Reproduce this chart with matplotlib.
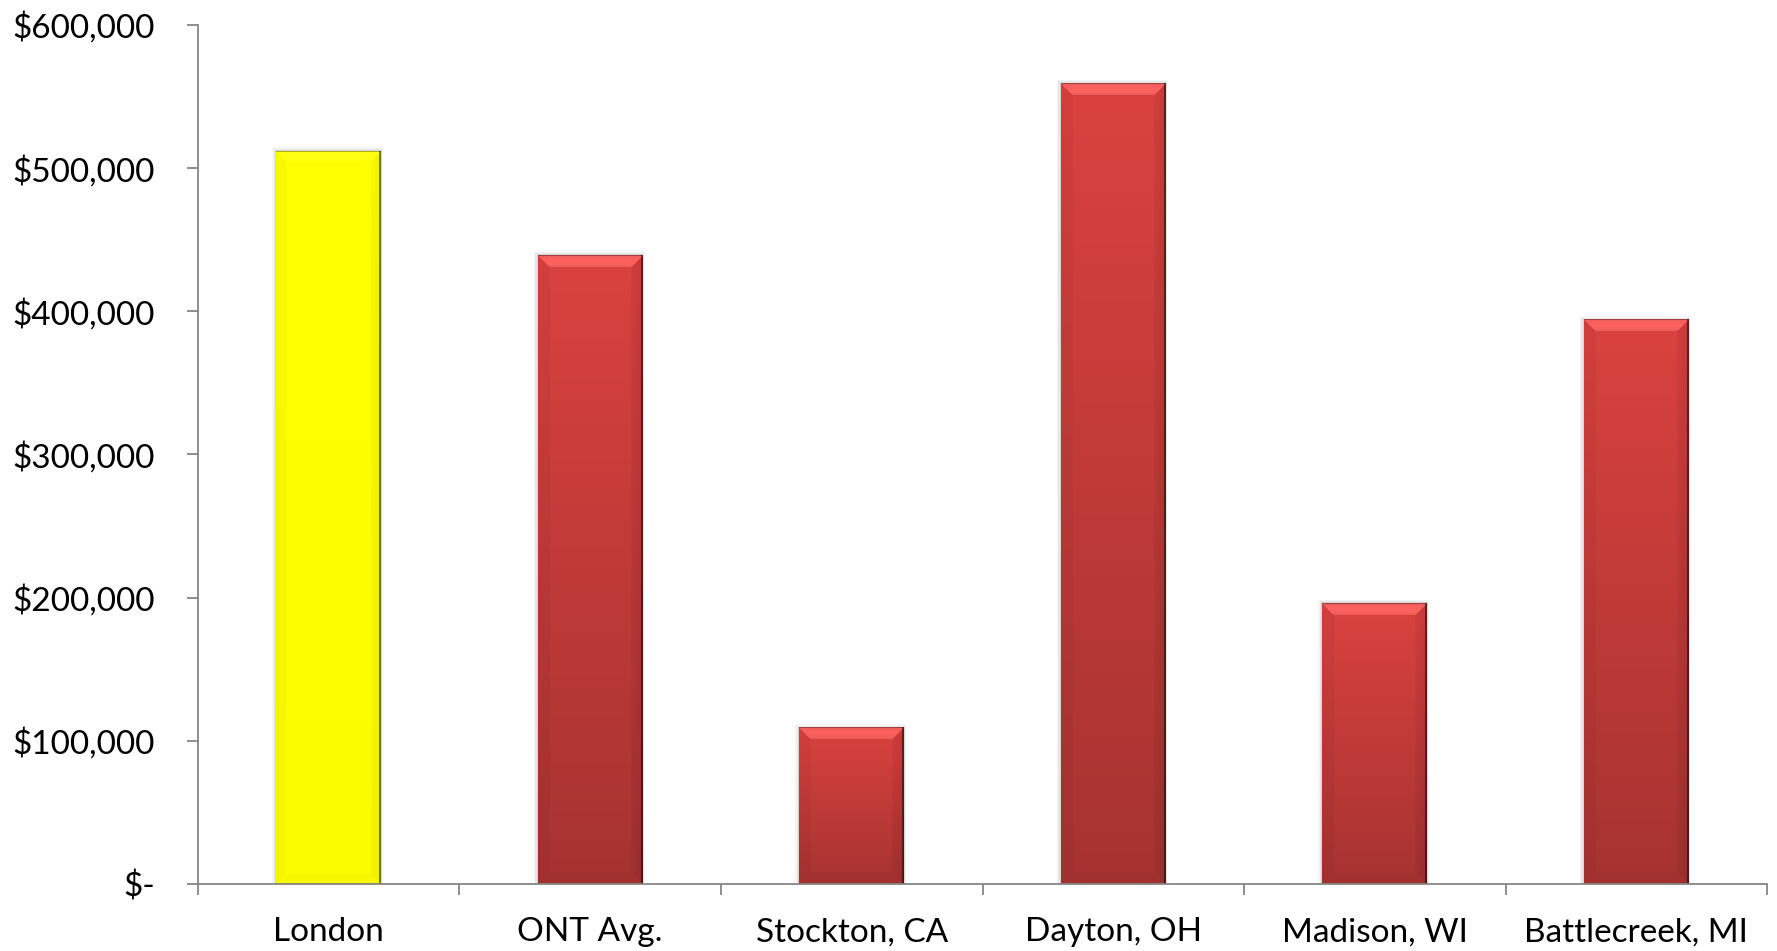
import numpy as np
import matplotlib
matplotlib.use("Agg")
import matplotlib.pyplot as plt
from matplotlib.ticker import FuncFormatter, MultipleLocator, FixedLocator

plt.rcParams['font.family'] = ['Lato', 'DejaVu Sans']

cities = ["London", "ONT Avg.", "Stockton, CA", "Dayton, OH", "Madison, WI", "Battlecreek, MI"]
values = [512000, 439000, 109000, 559000, 196000, 394000]
highlight = "London"

RED_TOP = np.array([218, 66, 63]) / 255
RED_BOTTOM = np.array([166, 51, 49]) / 255
YELLOW = np.array([255, 255, 0]) / 255


def money(v, pos):
    if v == 0:
        return "$-"
    return "${:,.0f}".format(v)


def bevel_image(w, h, top, bottom, s=12, strength=1.0):
    """RGB array for a bevelled bar, w x h pixels."""
    yy, xx = np.mgrid[0:h, 0:w].astype(float)
    frac = (yy / max(h - 1, 1))[..., None]
    img = top * (1 - frac) + bottom * frac
    t, b, l, r = yy, h - 1 - yy, xx, w - 1 - xx
    d = np.stack([t, b, l, r])
    face = np.argmin(d, axis=0)
    dmin = d.min(axis=0)
    edge = dmin < s
    prof = np.sin(np.pi * np.clip(dmin / s, 0, 1))
    shade = np.ones((h, w))
    m = edge & (face == 0)
    shade[m] = 1.06 + 0.10 * prof[m]
    m = edge & (face == 1)
    shade[m] = 0.97
    m = edge & (face == 2)
    shade[m] = 0.96
    m = edge & (face == 3)
    shade[m] = 0.90 + 0.06 * (dmin[m] / s)
    shade = 1 + (shade - 1) * strength
    img = img * shade[..., None]
    # lighten the top facet towards pink rather than saturating
    top_face = edge & (face == 0)
    img[top_face] = img[top_face] + (1 - img[top_face]) * 0.12 * strength
    img = np.clip(img, 0, 1)
    # thin dark rim on the right and top
    img[:, -2:] *= 0.5
    img[:1, :] *= 0.7
    return img


fig = plt.figure(figsize=(17.77, 9.51), dpi=100)
ax = fig.add_axes([0.1114, 0.0705, 0.9944 - 0.1114, 0.9737 - 0.0705])

x = np.arange(len(cities))
colors = [YELLOW if c == highlight else RED_TOP for c in cities]
bars = ax.bar(x, values, width=0.4, color=colors, linewidth=0, zorder=2)

ax.set_xlim(-0.5, len(cities) - 0.5)
ax.set_ylim(0, 600000)

# shaded fill for each bar, sized in screen pixels
for bar, city in zip(bars, cities):
    x0, y0 = bar.get_x(), bar.get_y()
    x1, y1 = x0 + bar.get_width(), y0 + bar.get_height()
    p0 = ax.transData.transform((x0, y0))
    p1 = ax.transData.transform((x1, y1))
    w, h = int(round(p1[0] - p0[0])), int(round(p1[1] - p0[1]))
    if city == highlight:
        img = bevel_image(w, h, YELLOW, YELLOW * 0.99, s=10, strength=0.6)
    else:
        img = bevel_image(w, h, RED_TOP, RED_BOTTOM)
    # soft drop shadow
    for k, a in ((0.016, 0.08), (0.010, 0.12), (0.005, 0.15)):
        ax.add_patch(plt.Rectangle((x0 - k, y0), bar.get_width() + 1.4 * k,
                                   bar.get_height() + k * 160000,
                                   color="#808080", alpha=a, lw=0, zorder=1.5))
    ax.imshow(img, extent=(x0, x1, y0, y1), aspect="auto", interpolation="nearest",
              zorder=3, origin="upper")

for side in ("top", "right"):
    ax.spines[side].set_visible(False)
for side in ("left", "bottom"):
    ax.spines[side].set_color("#868686")
    ax.spines[side].set_linewidth(1.3)
    ax.spines[side].set_zorder(4)

ax.yaxis.set_major_locator(MultipleLocator(100000))
ax.yaxis.set_major_formatter(FuncFormatter(money))
ax.xaxis.set_major_locator(FixedLocator(np.arange(-0.5, len(cities), 1.0)))
ax.xaxis.set_major_formatter(FuncFormatter(lambda v, p: ""))
ax.xaxis.set_minor_locator(FixedLocator(x))
ax.set_xticklabels(cities, minor=True)

ax.tick_params(axis="y", direction="out", length=8, width=1.3, color="#868686",
               labelsize=24, pad=23)
ax.tick_params(axis="x", which="major", direction="out", length=8, width=1.3, color="#868686")
ax.tick_params(axis="x", which="minor", length=0, labelsize=24, pad=24)

fig.savefig("out.png", dpi=100)
